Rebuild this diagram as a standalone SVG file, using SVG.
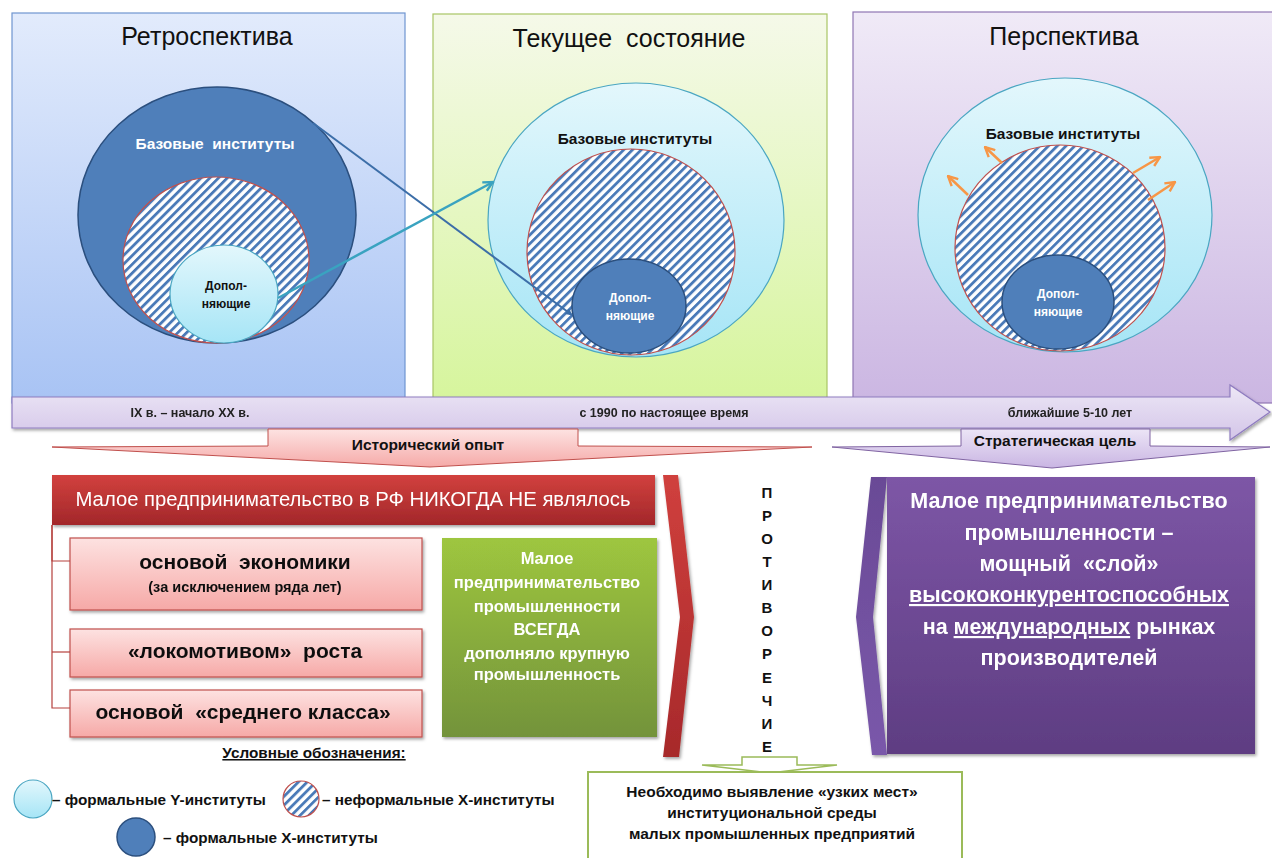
<svg xmlns="http://www.w3.org/2000/svg" width="1272" height="858" viewBox="0 0 1272 858">
<defs>
  <linearGradient id="gP1" x1="0" y1="0" x2="0" y2="1"><stop offset="0" stop-color="#e2ebfc"/><stop offset="1" stop-color="#a8c3f4"/></linearGradient>
  <linearGradient id="gP2" x1="0" y1="0" x2="0" y2="1"><stop offset="0" stop-color="#f5f9e9"/><stop offset="1" stop-color="#d6f59c"/></linearGradient>
  <linearGradient id="gP3" x1="0" y1="0" x2="0" y2="1"><stop offset="0" stop-color="#f0eaf7"/><stop offset="1" stop-color="#cbb6e2"/></linearGradient>
  <linearGradient id="gLight" x1="0" y1="0" x2="0" y2="1"><stop offset="0" stop-color="#e3f7fc"/><stop offset="1" stop-color="#a6e5f6"/></linearGradient>
  <linearGradient id="gBar" x1="0" y1="0" x2="0" y2="1"><stop offset="0" stop-color="#ede7f6"/><stop offset="1" stop-color="#d3c5e8"/></linearGradient>
  <linearGradient id="gPinkArrow" x1="0" y1="0" x2="0" y2="1"><stop offset="0" stop-color="#fde3e2"/><stop offset="1" stop-color="#f5aaa8"/></linearGradient>
  <linearGradient id="gLavArrow" x1="0" y1="0" x2="0" y2="1"><stop offset="0" stop-color="#ece5f6"/><stop offset="1" stop-color="#c9b5e3"/></linearGradient>
  <linearGradient id="gRed" x1="0" y1="0" x2="0" y2="1"><stop offset="0" stop-color="#d2413e"/><stop offset="1" stop-color="#a2272a"/></linearGradient>
  <linearGradient id="gRedCh" x1="0" y1="0" x2="0" y2="1"><stop offset="0" stop-color="#d0403d"/><stop offset="1" stop-color="#a7292b"/></linearGradient>
  <linearGradient id="gPink" x1="0" y1="0" x2="0" y2="1"><stop offset="0" stop-color="#fde2e1"/><stop offset="1" stop-color="#f6a9a7"/></linearGradient>
  <linearGradient id="gGreen" x1="0" y1="0" x2="0" y2="1"><stop offset="0" stop-color="#9ec63f"/><stop offset="1" stop-color="#73933a"/></linearGradient>
  <linearGradient id="gPurple" x1="0" y1="0" x2="0" y2="1"><stop offset="0" stop-color="#7d56a6"/><stop offset="1" stop-color="#5e3d82"/></linearGradient>
  <linearGradient id="gPurpleCh" x1="0" y1="0" x2="0" y2="1"><stop offset="0" stop-color="#6a4a96"/><stop offset="1" stop-color="#7a58aa"/></linearGradient>
  <pattern id="hatch" patternUnits="userSpaceOnUse" width="6.2" height="6.2" patternTransform="rotate(45)">
    <rect width="6.2" height="6.2" fill="#ffffff"/>
    <rect width="2.8" height="6.2" fill="#4a7ab8"/>
  </pattern>
  <filter id="sh" x="-10%" y="-10%" width="130%" height="130%">
    <feDropShadow dx="1.5" dy="2" stdDeviation="1.5" flood-color="#000" flood-opacity="0.35"/>
  </filter>
  <marker id="mDark" viewBox="0 0 10 10" refX="9" refY="5" markerWidth="7" markerHeight="7" orient="auto" markerUnits="userSpaceOnUse">
    <path d="M0,0 L10,5 L0,10 Z" fill="#3c6ea8"/>
  </marker>
  <marker id="mTeal" viewBox="0 0 10 10" refX="9" refY="5" markerWidth="12" markerHeight="12" orient="auto" markerUnits="userSpaceOnUse">
    <path d="M1,1 L9,5 L1,9" fill="none" stroke="#3aa3c0" stroke-width="2"/>
  </marker>
  <marker id="mOr" viewBox="0 0 10 10" refX="9" refY="5" markerWidth="12" markerHeight="12" orient="auto" markerUnits="userSpaceOnUse">
    <path d="M1,1 L9,5 L1,9" fill="none" stroke="#f79646" stroke-width="2"/>
  </marker>
  <style>
    text { font-family: "Liberation Sans", Arial, sans-serif; }
    .title { font-size: 25px; fill: #111; text-anchor: middle; }
    .b { font-weight: bold; }
    .c { text-anchor: middle; }
    .wh { fill: #ffffff; }
    .bk { fill: #111111; }
    .hatch { fill: url(#hatch); stroke: #c0504d; stroke-width: 1.2; }
    .dark { fill: #4f7fba; stroke: #2b4f7e; stroke-width: 1.5; }
    .light { fill: url(#gLight); stroke: #4aa6c2; stroke-width: 1.2; }
    .small { font-size: 12px; font-weight: bold; text-anchor: middle; }
    .tl { font-size: 12.5px; font-weight: bold; fill: #222; text-anchor: middle; }
    .pink { fill: url(#gPink); stroke: #c0504d; stroke-width: 1.2; }
    .leg { font-size: 15.3px; font-weight: bold; fill: #111; }
    .base { font-size: 15.5px; font-weight: bold; text-anchor: middle; }
    .pk { font-size: 21px; font-weight: bold; fill: #111; text-anchor: middle; }
  </style>
</defs>
<rect width="1272" height="858" fill="#ffffff"/>

<g id="panel-retro">
  <rect x="12" y="13" width="393" height="390" fill="url(#gP1)" stroke="#6f95d0" stroke-width="1.2"/>
  <text class="title" x="207" y="45">Ретроспектива</text>
  <ellipse class="dark" cx="217" cy="215" rx="139" ry="128"/>
  <text class="base wh" x="215" y="149" xml:space="preserve">Базовые  институты</text>
  <ellipse class="hatch" cx="216" cy="260" rx="93" ry="83"/>
  <ellipse class="light" cx="224" cy="294" rx="54" ry="49"/>
  <text class="small bk" x="226" y="290">Допол-</text>
  <text class="small bk" x="226" y="308">няющие</text>
</g>

<g id="panel-current">
  <rect x="433" y="14" width="394" height="389" fill="url(#gP2)" stroke="#a8c565" stroke-width="1.2"/>
  <text class="title" x="629" y="47" xml:space="preserve">Текущее  состояние</text>
  <ellipse class="light" cx="636" cy="220" rx="148" ry="137"/>
  <text class="base bk" x="635" y="144">Базовые институты</text>
  <ellipse class="hatch" cx="631" cy="252" rx="104" ry="103"/>
  <ellipse class="dark" cx="629" cy="306" rx="57" ry="47"/>
  <text class="small wh" x="630" y="302">Допол-</text>
  <text class="small wh" x="630" y="320">няющие</text>
</g>

<g id="panel-future">
  <rect x="853" y="12" width="430" height="391" fill="url(#gP3)" stroke="#8f76b3" stroke-width="1.2"/>
  <text class="title" x="1064" y="45">Перспектива</text>
  <ellipse class="light" cx="1065" cy="215" rx="147" ry="137"/>
  <text class="base bk" x="1063" y="139">Базовые институты</text>
  <ellipse class="hatch" cx="1060" cy="248" rx="105" ry="103"/>
  <ellipse class="dark" cx="1058" cy="302" rx="56" ry="47"/>
  <text class="small wh" x="1058" y="298">Допол-</text>
  <text class="small wh" x="1058" y="316">няющие</text>
</g>

<g id="timeline" filter="url(#sh)">
  <polygon points="12,397 1230,397 1230,385 1270,412 1230,440 1230,428 12,428" fill="url(#gBar)" stroke="#8f7cc0" stroke-width="1.2"/>
  <text class="tl" x="190" y="417">IX в. – начало XX в.</text>
  <text class="tl" x="664" y="417">с 1990 по настоящее время</text>
  <text class="tl" x="1070" y="417">ближайшие 5-10 лет</text>
</g>

<g id="historical-experience">
  <polygon points="268,429 578,429 578,446 812,447 430,467 52,447 268,446" fill="url(#gPinkArrow)" stroke="#c0504d" stroke-width="1"/>
  <text class="b c bk" x="428" y="450" font-size="15.5">Исторический опыт</text>
</g>

<g id="strategic-goal">
  <polygon points="961,429 1150,429 1150,446 1270,447 1052,468 832,447 961,446" fill="url(#gLavArrow)" stroke="#8064a2" stroke-width="1"/>
  <text class="b c bk" x="1055" y="446" font-size="15.5">Стратегическая цель</text>
</g>

<g id="header-never" filter="url(#sh)">
  <rect x="52" y="475" width="603" height="50" fill="url(#gRed)"/>
  <text class="c wh" x="353" y="506" font-size="20" textLength="555" lengthAdjust="spacingAndGlyphs">Малое предпринимательство в РФ НИКОГДА НЕ являлось</text>
</g>

<g id="box-economy" filter="url(#sh)">
  <rect class="pink" x="70" y="538" width="352" height="72"/>
  <text class="pk" x="245" y="569" xml:space="preserve">основой  экономики</text>
  <text class="b c bk" x="245" y="592" font-size="14.5">(за исключением ряда лет)</text>
</g>

<g id="box-locomotive" filter="url(#sh)">
  <rect class="pink" x="70" y="629" width="352" height="48"/>
  <text class="pk" x="245" y="658" xml:space="preserve">«локомотивом»  роста</text>
</g>

<g id="box-middle-class" filter="url(#sh)">
  <rect class="pink" x="70" y="690" width="352" height="47"/>
  <text class="pk" x="243" y="719" xml:space="preserve">основой  «среднего класса»</text>
</g>

<g id="box-always" filter="url(#sh)">
  <rect x="442" y="538" width="215" height="199" fill="url(#gGreen)"/>
  <g class="b c wh" font-size="16.5">
    <text x="547" y="564">Малое</text>
    <text x="547" y="588">предпринимательство</text>
    <text x="547" y="612">промышленности</text>
    <text x="547" y="635">ВСЕГДА</text>
    <text x="547" y="659">дополняло крупную</text>
    <text x="547" y="680">промышленность</text>
  </g>
</g>

<g id="chevron-red" filter="url(#sh)">
  <polygon points="663,475 678,475 694,617 679,757 663,757 680,617" fill="url(#gRedCh)"/>
</g>

<g id="contradiction">
  <g class="b c bk" font-size="15">
    <text x="767" y="498">П</text>
    <text x="767" y="521">Р</text>
    <text x="767" y="544">О</text>
    <text x="767" y="567">Т</text>
    <text x="767" y="590">И</text>
    <text x="767" y="613">В</text>
    <text x="767" y="636">О</text>
    <text x="767" y="659">Р</text>
    <text x="767" y="683">Е</text>
    <text x="767" y="706">Ч</text>
    <text x="767" y="729">И</text>
    <text x="767" y="752">Е</text>
  </g>
</g>

<g id="chevron-purple" filter="url(#sh)">
  <polygon points="871,477 887,477 873,617 887,755 872,755 856,617" fill="url(#gPurpleCh)"/>
</g>

<g id="box-goal" filter="url(#sh)">
  <rect x="887" y="477" width="368" height="277" fill="url(#gPurple)"/>
  <g class="b c wh" font-size="21.5">
    <text x="1069" y="508">Малое предпринимательство</text>
    <text x="1069" y="540">промышленности –</text>
    <text x="1069" y="571" xml:space="preserve">мощный  «слой»</text>
    <text x="1069" y="602" text-decoration="underline">высококонкурентоспособных</text>
    <text x="1069" y="634">на <tspan text-decoration="underline">международных</tspan> рынках</text>
    <text x="1069" y="665">производителей</text>
  </g>
</g>

<g id="arrow-down-green">
  <polygon points="742,757 797,757 797,765 837,765 770,773 702,765 742,765" fill="#ffffff" stroke="#9bbb59" stroke-width="1.5"/>
</g>

<g id="box-bottlenecks">
  <rect x="588" y="772" width="374" height="90" fill="#ffffff" stroke="#9bbb59" stroke-width="2"/>
  <g class="b c bk" font-size="15.5">
    <text x="772" y="797">Необходимо выявление «узких мест»</text>
    <text x="772" y="818">институциональной среды</text>
    <text x="772" y="839">малых промышленных предприятий</text>
  </g>
</g>

<g id="legend">
  <text class="leg c" x="314" y="758" text-decoration="underline">Условные обозначения:</text>
  <circle class="light" cx="33" cy="799" r="19"/>
  <text class="leg" x="52" y="805">– формальные Y-институты</text>
  <circle class="hatch" cx="301" cy="799" r="18"/>
  <text class="leg" x="322" y="805">– неформальные X-институты</text>
  <circle class="dark" cx="136" cy="837" r="19"/>
  <text class="leg" x="163" y="843">– формальные X-институты</text>
</g>

<g id="connectors">
  <line x1="313" y1="123" x2="572" y2="315" stroke="#3c6ea8" stroke-width="2" marker-end="url(#mDark)"/>
  <line x1="278" y1="298" x2="493" y2="182" stroke="#3aa3c0" stroke-width="2.5" marker-end="url(#mTeal)"/>
  <polyline points="70,561 52,561 52,525" fill="none" stroke="#b5403d" stroke-width="1.2"/>
  <polyline points="52,525 52,708 70,708" fill="none" stroke="#b5403d" stroke-width="1.2"/>
  <line x1="52" y1="652" x2="70" y2="652" stroke="#b5403d" stroke-width="1.2"/>
  <g stroke="#f79646" stroke-width="2.5" marker-end="url(#mOr)">
    <line x1="1002" y1="163" x2="985" y2="147"/>
    <line x1="968" y1="195" x2="948" y2="176"/>
    <line x1="1133" y1="173" x2="1160" y2="157"/>
    <line x1="1148" y1="200" x2="1175" y2="182"/>
  </g>
</g>
</svg>
